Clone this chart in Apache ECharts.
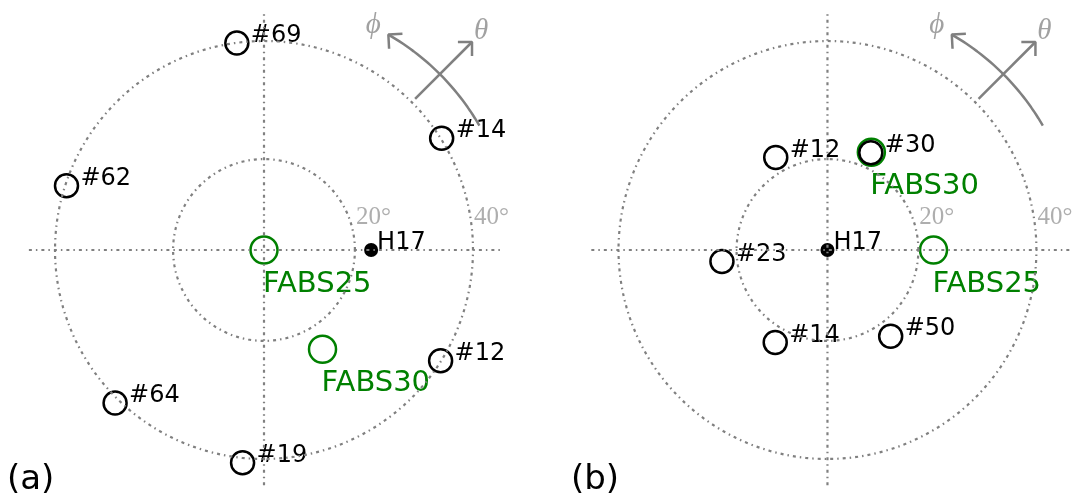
<!DOCTYPE html>
<html>
<head>
<meta charset="utf-8">
<script src="https://cdn.jsdelivr.net/npm/echarts@6/dist/echarts.min.js"></script>
<style>
  html, body { margin: 0; padding: 0; background: #fff; }
  #main { width: 1073px; height: 497px; }
</style>
</head>
<body>
<div id="main"></div>
<script>
// rings (degrees) and their labels
var ringRadii = [17.4, 40];
var ringLabels = ['20°', '40°'];

// panel (a)
var aNames = ['#69', '#14', '#62', '#12', '#64', '#19'];
var aX = [-5.2, 34.0, -37.8, 33.8, -28.5, -4.1];
var aY = [39.6, 21.4, 12.3, -21.2, -29.3, -40.7];
var aFabsNames = ['FABS25', 'FABS30'];
var aFabsX = [0, 11.2];
var aFabsY = [0, -19.0];
var aH17 = [20.5, 0];

// panel (b)
var bNames = ['#12', '#30', '#23', '#14', '#50'];
var bX = [-9.9, 8.3, -20.2, -10.0, 12.1];
var bY = [17.7, 18.6, -2.2, -17.7, -16.5];
var bFabsNames = ['FABS25', 'FABS30'];
var bFabsX = [20.3, 8.4];
var bFabsY = [0, 18.7];
var bH17 = [0, 0];

var chart = echarts.init(document.getElementById('main'));

var S = 209 / 40; // px per degree
var dotted = {color: '#808080', width: 2.2, type: [3, 4, 1.5, 4]};
var arrowStyle = {color: '#808080', width: 2.5};

function circlePts(r) {
    var pts = [];
    for (var i = 0; i <= 360; i += 2) {
        var t = i * Math.PI / 180;
        pts.push([r * Math.cos(t), r * Math.sin(t)]);
    }
    return pts;
}
function arcPts(r, a0, a1) {
    var pts = [];
    for (var a = a0; a <= a1 + 0.001; a += 1) {
        var t = a * Math.PI / 180;
        pts.push([r * Math.cos(t), r * Math.sin(t)]);
    }
    return pts;
}
function head(tip, dir, len) {
    var b1 = (dir + 180 - 45) * Math.PI / 180, b2 = (dir + 180 + 45) * Math.PI / 180;
    return [[tip[0] + len * Math.cos(b1), tip[1] + len * Math.sin(b1)], tip,
            [tip[0] + len * Math.cos(b2), tip[1] + len * Math.sin(b2)]];
}
function zip(xs, ys, names) {
    return xs.map(function (x, i) { return {value: [x, ys[i]], name: names ? names[i] : ''}; });
}

function panelSeries(k, names, xs, ys, fNames, fx, fy, h17, ext) {
    var ax = {xAxisIndex: k, yAxisIndex: k};
    var list = [];
    ringRadii.forEach(function (r) {
        list.push(Object.assign({type: 'line', data: circlePts(r), showSymbol: false, silent: true,
            lineStyle: dotted}, ax));
    });
    list.push(Object.assign({type: 'line', data: [[ext[0], 0], [ext[1], 0]], showSymbol: false,
        silent: true, lineStyle: dotted}, ax));
    list.push(Object.assign({type: 'line', data: [[0, ext[2]], [0, ext[3]]], showSymbol: false,
        silent: true, lineStyle: dotted}, ax));
    // ring labels
    list.push(Object.assign({type: 'scatter', symbolSize: 1, itemStyle: {color: 'rgba(0,0,0,0)'}, silent: true,
        data: ringRadii.map(function (r, i) { return {value: [r, 0], name: ringLabels[i]}; }),
        label: {show: true, position: 'inside', align: 'left', verticalAlign: 'middle', offset: [1, -33],
            formatter: '{b}', fontFamily: 'Liberation Serif', fontSize: 25, color: '#9a9a9a'}}, ax));
    // arrows
    var arcR = 47.6, t60 = 60 * Math.PI / 180;
    var arcTip = [arcR * Math.cos(t60), arcR * Math.sin(t60)];
    var c45 = Math.cos(Math.PI / 4);
    var stTip = [56.3 * c45, 56.3 * c45];
    list.push(Object.assign({type: 'line', data: arcPts(arcR, 30, 60), showSymbol: false, silent: true,
        lineStyle: arrowStyle}, ax));
    list.push(Object.assign({type: 'line', data: head(arcTip, 138, 2.7), showSymbol: false, silent: true,
        lineStyle: arrowStyle}, ax));
    list.push(Object.assign({type: 'line', data: [[40.9 * c45, 40.9 * c45], stTip], showSymbol: false,
        silent: true, lineStyle: arrowStyle}, ax));
    list.push(Object.assign({type: 'line', data: head(stTip, 45, 2.7), showSymbol: false, silent: true,
        lineStyle: arrowStyle}, ax));
    list.push(Object.assign({type: 'scatter', symbolSize: 1, itemStyle: {color: 'rgba(0,0,0,0)'}, silent: true,
        data: [{value: arcTip, name: 'ϕ', label: {offset: [-15, -9]}},
               {value: stTip, name: 'θ', label: {offset: [9, -11]}}],
        label: {show: true, position: 'inside', formatter: '{b}', fontFamily: 'Liberation Serif',
            fontStyle: 'italic', fontSize: 29, color: '#8a8a8a'}}, ax));
    // FABS circles
    list.push(Object.assign({type: 'scatter', symbol: 'circle', symbolSize: 27, silent: true,
        itemStyle: {color: 'rgba(0,0,0,0)', borderColor: '#008000', borderWidth: 2.5, opacity: 1},
        data: zip(fx, fy, fNames),
        label: {show: true, position: 'inside', align: 'left', verticalAlign: 'middle', offset: [-1, 34],
            formatter: '{b}', fontFamily: 'DejaVu Sans', fontSize: 29, color: '#008000'}}, ax));
    // black circles
    list.push(Object.assign({type: 'scatter', symbol: 'circle', symbolSize: 23, silent: true,
        itemStyle: {color: 'rgba(0,0,0,0)', borderColor: '#000', borderWidth: 2.5, opacity: 1},
        data: zip(xs, ys, names),
        label: {show: true, position: 'inside', align: 'left', verticalAlign: 'middle', offset: [14, -7],
            formatter: '{b}', fontFamily: 'DejaVu Sans', fontSize: 24, color: '#000'}}, ax));
    // H17
    list.push(Object.assign({type: 'scatter', symbol: 'circle', symbolSize: 14, silent: true,
        itemStyle: {color: '#000', opacity: 1},
        data: [{value: h17, name: 'H17'}],
        label: {show: true, position: 'inside', align: 'left', verticalAlign: 'middle', offset: [6, -7],
            formatter: '{b}', fontFamily: 'DejaVu Sans', fontSize: 24, color: '#000'}}, ax));
    return list;
}

var cxA = 264, cxB = 827.5, cy = 250;
var option = {
    animation: false,
    backgroundColor: '#fff',
    title: [
        {text: '(a)', left: 7, top: 463, padding: 0,
            textStyle: {fontSize: 34, fontWeight: 'normal', fontFamily: 'DejaVu Sans', color: '#000'}},
        {text: '(b)', left: 571, top: 463, padding: 0,
            textStyle: {fontSize: 34, fontWeight: 'normal', fontFamily: 'DejaVu Sans', color: '#000'}}
    ],
    grid: [
        {left: cxA - 50 * S, top: cy - 46 * S, width: 102 * S, height: 92 * S},
        {left: cxB - 48 * S, top: cy - 46 * S, width: 95 * S, height: 92 * S}
    ],
    xAxis: [
        {type: 'value', gridIndex: 0, min: -50, max: 52, show: false},
        {type: 'value', gridIndex: 1, min: -48, max: 47, show: false}
    ],
    yAxis: [
        {type: 'value', gridIndex: 0, min: -46, max: 46, show: false},
        {type: 'value', gridIndex: 1, min: -46, max: 46, show: false}
    ],
    series: [].concat(
        panelSeries(0, aNames, aX, aY, aFabsNames, aFabsX, aFabsY, aH17, [-45, 45.5, -45, 45.5]),
        panelSeries(1, bNames, bX, bY, bFabsNames, bFabsX, bFabsY, bH17, [-45.2, 46.7, -45, 45.4])
    )
};
chart.setOption(option);
</script>
</body>
</html>
